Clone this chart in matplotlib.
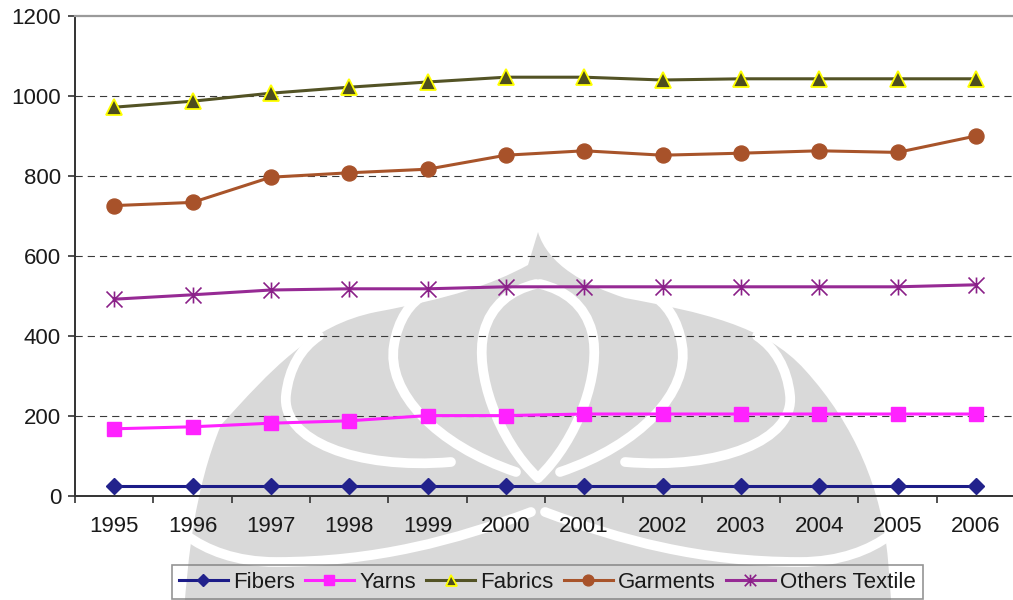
import matplotlib
matplotlib.use("Agg")
import matplotlib.pyplot as plt
from matplotlib.path import Path
from matplotlib.patches import PathPatch
import numpy as np

plt.rcParams["font.family"] = ["Liberation Sans", "DejaVu Sans"]

# ---- data -------------------------------------------------------------
years = ["1995", "1996", "1997", "1998", "1999", "2000",
         "2001", "2002", "2003", "2004", "2005", "2006"]
fibers = [25, 25, 25, 25, 25, 25, 25, 25, 25, 25, 25, 25]
yarns = [168, 173, 182, 188, 201, 201, 205, 205, 205, 205, 205, 205]
fabrics = [972, 987, 1007, 1022, 1035, 1047, 1047, 1040, 1043, 1043, 1043, 1043]
garments = [726, 734, 797, 808, 817, 852, 863, 852, 857, 863, 859, 900]
others = [492, 503, 515, 518, 518, 523, 523, 523, 523, 523, 523, 528]
series_names = ["Fibers", "Yarns", "Fabrics", "Garments", "Others Textile"]
y_ticks = [0, 200, 400, 600, 800, 1000, 1200]

W, H = 1013, 600
FS = 16
fig = plt.figure(figsize=(W / 100, H / 100), dpi=100)
fig.patch.set_facecolor("white")


def px(x, y):
    return (x / W, 1 - y / H)


# ---- background emblem (light grey, behind the plot) -------------------
CX = 538


def mirror(pts):
    return [(2 * CX - x, y) for x, y in pts]


M, L, C4, CL = Path.MOVETO, Path.LINETO, Path.CURVE4, Path.CLOSEPOLY

right_outline = [(538, 232),
                 (548, 265), (585, 285), (625, 298),
                 (700, 312), (765, 325), (805, 370),
                 (855, 425), (882, 490), (888, 560),
                 (892, 612)]
left_outline = mirror(right_outline)[::-1]
verts = right_outline + left_outline + [(0, 0)]
codes = ([M] + [C4] * 9 + [L]) + ([L] + [C4] * 9 + [L]) + [CL]
verts = [px(x, y) for x, y in verts]
fig.add_artist(PathPatch(Path(verts, codes), transform=fig.transFigure,
                         facecolor="#d9d9d9", edgecolor="none", zorder=-2))

strokes = [
    [(538, 478), (578, 440), (602, 372), (592, 332), (585, 305), (565, 290), (540, 284)],
    [(560, 472), (640, 445), (690, 392), (682, 345), (678, 320), (666, 302), (650, 294)],
    [(625, 462), (720, 470), (795, 440), (790, 395), (787, 368), (775, 348), (757, 336)],
    [(545, 512), (620, 540), (700, 562), (800, 562), (840, 562), (870, 550), (890, 535)],
]
for s in strokes:
    for pts in (s, mirror(s)):
        p = Path([px(x, y) for x, y in pts], [M] + [C4] * 6)
        fig.add_artist(PathPatch(p, transform=fig.transFigure, facecolor="none",
                                 edgecolor="white", lw=7.0, capstyle="round",
                                 zorder=-1))

# ---- axes --------------------------------------------------------------
ax = fig.add_axes([75 / W, 104 / H, 940 / W, 480 / H])
ax.set_facecolor("none")
x = np.arange(len(years))

ax.set_xlim(-0.5, len(years) - 0.5)
ax.set_ylim(y_ticks[0], y_ticks[-1])

for v in y_ticks[1:-1]:
    ax.axhline(v, color="#3a3a3a", lw=0.8, linestyle=(0, (6.5, 4.5)), zorder=1)

star = Path([(0, -1), (0, 1), (-1, -1), (1, 1), (-1, 1), (1, -1)],
            [M, L, M, L, M, L])

lw = 2.2
h1, = ax.plot(x, fibers, color="#1c1c88", lw=lw, marker="D", ms=7.8,
              mfc="#22228c", mec="#22228c", zorder=3)
h2, = ax.plot(x, yarns, color="#ff22ff", lw=lw, marker="s", ms=10.5,
              mfc="#ff22ff", mec="#ff22ff", zorder=3)
h3, = ax.plot(x, fabrics, color="#535325", lw=lw, marker="^", ms=11,
              mfc="#4e4e1e", mec="#ffff00", mew=1.3, zorder=3)
h4, = ax.plot(x, garments, color="#a8542a", lw=lw, marker="o", ms=10.8,
              mfc="#a8522a", mec="#a8522a", zorder=3)
h5, = ax.plot(x, others, color="#962a94", lw=lw, marker=star, ms=11.5,
              mfc="none", mec="#8a2088", mew=1.2, zorder=3)

# spines
for side in ("left", "bottom"):
    ax.spines[side].set_color("#333333")
    ax.spines[side].set_linewidth(1.4)
ax.spines["top"].set_color("#9a9a9a")
ax.spines["top"].set_linewidth(1.6)
ax.spines["right"].set_visible(False)

# ticks
ax.set_yticks(y_ticks)
ax.set_yticklabels([str(v) for v in y_ticks])
ax.tick_params(axis="y", direction="out", length=5, width=1.2, color="#333333",
               pad=5, labelsize=FS, labelcolor="#1a1a1a")
ax.set_xticks(x)
ax.set_xticklabels(years)
ax.tick_params(axis="x", which="major", length=0, pad=14.5, labelsize=FS,
               labelcolor="#1a1a1a")
ax.set_xticks(np.arange(-0.5, len(years), 1.0), minor=True)
ax.tick_params(axis="x", which="minor", direction="out", length=5, width=1.2,
               color="#333333")

# legend
leg = fig.legend(handles=[h1, h2, h3, h4, h5], labels=series_names,
                 loc="upper left", bbox_to_anchor=(172 / W, 1 - 565 / H),
                 bbox_transform=fig.transFigure, ncol=5, fontsize=FS,
                 frameon=True, fancybox=False, borderaxespad=0,
                 borderpad=0.3, handlelength=2.2, handletextpad=0.25,
                 columnspacing=0.45, markerscale=0.72, numpoints=1)
leg.get_frame().set_facecolor("none")
leg.get_frame().set_edgecolor("#7a7a7a")
leg.get_frame().set_linewidth(1.2)
for t in leg.get_texts():
    t.set_color("#1a1a1a")

fig.savefig("out.png", dpi=100, facecolor="white")
